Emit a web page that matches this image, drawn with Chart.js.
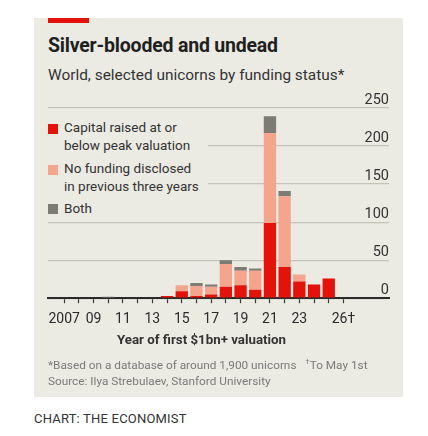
<!DOCTYPE html>
<html>
<head>
<meta charset="utf-8">
<script src="https://cdn.jsdelivr.net/npm/chart.js@4.4.1/dist/chart.umd.min.js"></script>
<style>
  body { margin: 0; width: 428px; height: 436px; background: #fff; position: relative; overflow: hidden;
         font-family: Roboto, "Liberation Sans", sans-serif; color: #1f1f1f; }
  .abs { position: absolute; white-space: nowrap; }
  #panel { left: 34px; top: 18px; width: 369px; height: 379px; background: #ecebe3; }
  #redbar { left: 48px; top: 18px; width: 41px; height: 5px; background: #e3120b; }
  #title { left: 48px; top: 34px; font-size: 19.5px; letter-spacing: -0.2px; font-weight: bold; }
  #subtitle { left: 48px; top: 66px; font-size: 15.4px; color: #333; }
  #chartbox { left: 34px; top: 88px; width: 369px; height: 250px; }
  #legend { left: 40px; top: 114px; width: 168px; height: 104px; background: #ecebe3; font-size: 13.5px; color: #333; }
  .sw { position: absolute; left: 8px; width: 10px; height: 10px; }
  .lt { position: absolute; left: 24px; line-height: 18px; }
  #xtitle { left: 117px; top: 332px; font-size: 13.3px; font-weight: bold; color: #333; }
  .note { left: 48px; font-size: 11.8px; color: #7a7a7a; }
  #credit { left: 34px; top: 411px; font-size: 13px; color: #333; letter-spacing: 0.2px; }
</style>
</head>
<body>
<div id="panel" class="abs"></div>
<div id="redbar" class="abs"></div>
<div id="title" class="abs">Silver-blooded and undead</div>
<div id="subtitle" class="abs">World, selected unicorns by funding status*</div>
<div id="chartbox" class="abs"><canvas id="unicornChart"></canvas></div>
<div id="legend" class="abs">
  <div class="sw" style="top:10px;background:#e3120b"></div>
  <div class="lt" style="top:4px">Capital raised at or<br>below peak valuation</div>
  <div class="sw" style="top:51px;background:#f5a58e"></div>
  <div class="lt" style="top:45px">No funding disclosed<br>in previous three years</div>
  <div class="sw" style="top:90px;background:#7c7b74"></div>
  <div class="lt" style="top:85px">Both</div>
</div>
<div id="xtitle" class="abs">Year of first $1bn+ valuation</div>
<div class="abs note" style="top:357px">*Based on a database of around 1,900 unicorns&nbsp;&nbsp;&nbsp;<sup style="font-size:8px">†</sup>To May 1st</div>
<div class="abs note" style="top:374px">Source: Ilya Strebulaev, Stanford University</div>
<div id="credit" class="abs">CHART: THE ECONOMIST</div>

<script>
// Tahun valuasi pertama $1bn+
const years = [2007, 2008, 2009, 2010, 2011, 2012, 2013, 2014, 2015, 2016,
               2017, 2018, 2019, 2020, 2021, 2022, 2023, 2024, 2025, 2026];
// Jumlah unicorn per status pendanaan
const belowPeak = [0, 0, 0, 0, 0, 0, 0, 3, 9, 3, 5, 15, 17, 11, 99, 41, 22, 18, 26, 0];
const noFunding = [0, 0, 0, 1, 0, 0, 0, 0, 8, 13, 10, 30, 19, 25, 118, 93, 9, 0, 0, 0];
const both      = [0, 0, 0, 1, 0, 0, 1, 0, 0, 4, 3, 5, 5, 3, 22, 7, 0, 0, 0, 0];

// Label sumbu
const tickYears = [2007, 2009, 2011, 2013, 2015, 2017, 2019, 2021, 2023, 2026];
const tickText  = ["2007", "09", "11", "13", "15", "17", "19", "21", "23", "26†"];
const yTicks = [0, 50, 100, 150, 200, 250];

const toPoints = (vals) => years.map((yr, i) => ({ x: yr, y: vals[i] }));

const data = {
  datasets: [
    { label: "Capital raised at or below peak valuation", data: toPoints(belowPeak), backgroundColor: "#e3120b" },
    { label: "No funding disclosed in previous three years", data: toPoints(noFunding), backgroundColor: "#f5a58e" },
    { label: "Both", data: toPoints(both), backgroundColor: "#7c7b74" },
  ],
};

const config = {
  type: "bar",
  data: data,
  options: {
    responsive: true,
    maintainAspectRatio: false,
    animation: false,
    layout: { padding: { left: 14, right: 14, top: 20, bottom: 2 } },
    datasets: { bar: { barPercentage: 0.84, categoryPercentage: 1, borderWidth: 0 } },
    plugins: { legend: { display: false }, tooltip: { enabled: false } },
    scales: {
      x: {
        type: "linear",
        stacked: true,
        offset: false,
        min: 2005.9,
        max: 2029.1,
        afterBuildTicks: (axis) => { axis.ticks = years.map((v) => ({ value: v })); },
        grid: { display: true, offset: false, drawOnChartArea: false, drawTicks: true, tickLength: 5,
                color: "#3a3a3a", tickColor: "#3a3a3a", lineWidth: 1, tickWidth: 1.2 },
        border: { display: true, color: "#2a2a2a", width: 2 },
        ticks: {
          autoSkip: false,
          maxRotation: 0,
          padding: 8,
          color: "#2a2a2a",
          font: { family: "Roboto, sans-serif", size: 14 },
          callback: (v) => { const k = tickYears.indexOf(v); return k >= 0 ? tickText[k] : ""; },
        },
      },
      y: {
        stacked: true,
        position: "right",
        min: 0,
        max: 250,
        afterBuildTicks: (axis) => { axis.ticks = yTicks.map((v) => ({ value: v })); },
        grid: { display: true, drawOnChartArea: true, drawTicks: false, color: "#c4c3b9", lineWidth: 1.2 },
        border: { display: false },
        ticks: { mirror: true, padding: 0, labelOffset: -8, color: "#333", font: { family: "Roboto, sans-serif", size: 14.5 } },
      },
    },
  },
};

const unicornChart = new Chart(document.getElementById("unicornChart"), config);
</script>
</body>
</html>
